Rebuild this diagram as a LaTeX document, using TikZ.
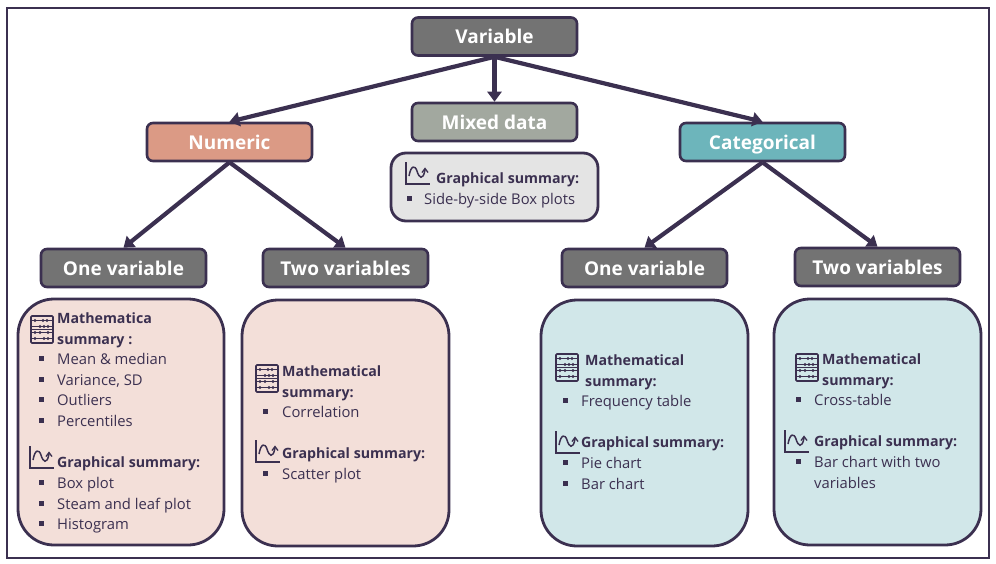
\documentclass[tikz,border=0pt]{standalone}
\usepackage{fontspec}
\setmainfont{Open Sans}
\usetikzlibrary{arrows.meta}

\definecolor{inkdark}{HTML}{3B3050}
\definecolor{boxgrey}{HTML}{737373}
\definecolor{boxsalmon}{HTML}{DB9A85}
\definecolor{boxsage}{HTML}{A2A89F}
\definecolor{boxteal}{HTML}{6DB5BB}
\definecolor{panelpink}{HTML}{F3DFD9}
\definecolor{panelteal}{HTML}{D1E7E9}
\definecolor{panelgrey}{HTML}{E4E4E4}

\tikzset{
    titlebox/.style={draw=inkdark, line width=2.6pt, rounded corners=6pt, minimum width=165pt, minimum height=38pt,
        inner sep=0pt, text=white, text height=16pt, text depth=2pt, font=\fontsize{19}{19}\selectfont\bfseries},
    panelbox/.style={draw=inkdark, line width=2.8pt, rounded corners=36pt, inner sep=0pt},
    headtext/.style={anchor=base west, inner sep=0pt, yshift=-0.7pt, text=inkdark, font=\fontsize{14.2}{14.2}\selectfont\bfseries},
    itemtext/.style={anchor=base west, inner sep=0pt, yshift=-0.7pt, text=inkdark, font=\fontsize{14.8}{14.8}\selectfont},
    linkarrow/.style={draw=inkdark, line width=4.2pt, -{Triangle[length=10pt,width=14pt]}},
    abacus/.pic={
        \draw[inkdark, line width=1.6pt, rounded corners=1pt] (0,0) rectangle (22,27);
        \foreach \y in {4.5,10.5,16.5,22.5}
        {
            \draw[inkdark, line width=0.9pt] (0,\y) -- (22,\y);
        }
        \foreach \x/\y in {4/4.5,12/4.5,16/4.5,9/10.5,13/10.5,17/10.5,4/16.5,9/16.5,17/16.5,4/22.5,13/22.5,17/22.5}
        {
            \fill[inkdark] (\x,\y) circle (1.7);
        }
        \draw[inkdark, line width=1.1pt] (0,13.5) -- (22,13.5);
    },
    wavechart/.pic={
        \draw[inkdark, line width=1.5pt] (0,0) -- (0,22) -- (24,22);
        \draw[inkdark, line width=1.5pt] (3,14) .. controls (5,3) and (9,3) .. (11,9)
            .. controls (13,16) and (17,19) .. (19,8);
        \draw[inkdark, line width=1.3pt] (16,10.5) -- (19,6.5) -- (22,10.5);
    }
}

\begin{document}
\begin{tikzpicture}[x=1pt,y=-1pt]
    \useasboundingbox (0,0) rectangle (996,563);
    \draw[inkdark, line width=2.2pt] (7,8) rectangle (989,558);

    % panels first
    \node[panelbox, fill=panelpink, minimum width=206pt, minimum height=246pt] (panelA) at (121,422) {};
    \node[panelbox, fill=panelpink, minimum width=207pt, minimum height=246pt] (panelB) at (345.5,423) {};
    \node[panelbox, fill=panelteal, minimum width=207pt, minimum height=246pt] (panelC) at (644.5,423) {};
    \node[panelbox, fill=panelteal, minimum width=207pt, minimum height=246pt] (panelD) at (877.5,422) {};
    \node[panelbox, fill=panelgrey, rounded corners=15pt, minimum width=207pt, minimum height=68pt] (panelM) at (494.5,187) {};

    % title boxes
    \node[titlebox, fill=boxgrey] (variable) at (494.5,36.5) {Variable};
    \node[titlebox, fill=boxsalmon] (numeric) at (229.5,142) {Numeric};
    \node[titlebox, fill=boxsage] (mixed) at (494.5,122) {Mixed data};
    \node[titlebox, fill=boxteal] (categorical) at (762.5,142) {Categorical};
    \node[titlebox, fill=boxgrey] (numone) at (123.5,268) {One variable};
    \node[titlebox, fill=boxgrey] (numtwo) at (345.5,268) {Two variables};
    \node[titlebox, fill=boxgrey] (catone) at (644.5,268) {One variable};
    \node[titlebox, fill=boxgrey] (cattwo) at (877.5,267) {Two variables};

    \draw[linkarrow] (variable.south) -- (numeric.north);
    \draw[linkarrow] (variable.south) -- (mixed.north);
    \draw[linkarrow] (variable.south) -- (categorical.north);
    \draw[linkarrow] (numeric.south) -- (numone.north);
    \draw[linkarrow] (numeric.south) -- (numtwo.north);
    \draw[linkarrow] (categorical.south) -- (catone.north);
    \draw[linkarrow] (categorical.south) -- (cattwo.north);

    % icons
    \pic at (31,316) {abacus};
    \pic at (256,365) {abacus};
    \pic at (556,354) {abacus};
    \pic at (796,354) {abacus};
    \pic at (30,446) {wavechart};
    \pic at (256,440) {wavechart};
    \pic at (556,431) {wavechart};
    \pic at (785,430) {wavechart};
    \pic at (406,162) {wavechart};

    % headings
    \foreach \name/\x/\y/\txt in {
        ha1/57/323/{Mathematica},
        ha2/57/344/{summary :},
        ha3/57/467/{Graphical summary:},
        hb1/282/376/{Mathematical},
        hb2/282/397/{summary:},
        hb3/282/458/{Graphical summary:},
        hc1/585/365/{Mathematical},
        hc2/585/386/{summary:},
        hc3/581/447/{Graphical summary:},
        hd1/822/364/{Mathematical},
        hd2/822/385/{summary:},
        hd3/814/446/{Graphical summary:},
        hm1/436/183/{Graphical summary:}}
    {
        \node[headtext] (\name) at (\x,\y) {\txt};
    }

    % bullet items
    \foreach \name/\bx/\x/\y/\txt in {
        ia1/41/57/364/{Mean \& median},
        ia2/41/57/385/{Variance, SD},
        ia3/41/57/405/{Outliers},
        ia4/41/57/426/{Percentiles},
        ia5/41/57/488/{Box plot},
        ia6/41/57/509/{Steam and leaf plot},
        ia7/41/57/529/{Histogram},
        ib1/265/282/417/{Correlation},
        ib2/265/282/479/{Scatter plot},
        ic1/565/581/406/{Frequency table},
        ic2/565/581/468/{Pie chart},
        ic3/565/581/489/{Bar chart},
        id1/798/814/405/{Cross-table},
        id2/798/814/467/{Bar chart with two},
        im1/409/424/204/{Side-by-side Box plots}}
    {
        \node[itemtext] (\name) at (\x,\y) {\txt};
        \fill[inkdark] (\bx-2.5,\y-8) rectangle (\bx+2.5,\y-3);
    }
    \node[itemtext] (id3) at (814,488) {variables};
\end{tikzpicture}
\end{document}
